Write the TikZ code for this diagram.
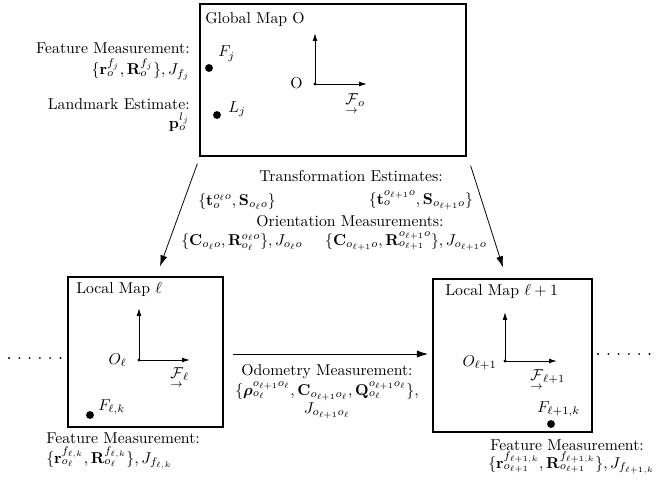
\documentclass[tikz,border=0pt]{standalone}
\usepackage{amsmath,amssymb}
\usetikzlibrary{arrows.meta,fit,calc}
\newcommand{\framevec}[1]{\smash[b]{\underset{\rightarrow}{\mathcal{F}}}_{#1}}
\begin{document}
\begin{tikzpicture}[x=0.635pt,y=-0.635pt,
  mapbox/.style={draw,line width=0.8pt,inner sep=0pt},
  axis/.style={-{Latex[length=5pt,width=3pt]},line width=0.6pt},
  bigarrow/.style={-{Latex[length=7pt,width=4.5pt]},line width=0.5pt},
  landmark/.style={circle,fill,inner sep=0pt,minimum size=5pt},
  origin/.style={circle,fill,inner sep=0pt,minimum size=2.2pt},
  lbl/.style={inner sep=0pt},
  dotmark/.style={circle,fill,inner sep=0pt,minimum size=1.3pt}]
\useasboundingbox (0,0) rectangle (656,481);
% ---------- global map ----------
\coordinate (G-nw) at (200,4); \coordinate (G-se) at (466,156);
\node[mapbox,fit=(G-nw)(G-se)] (G) {};
\node[lbl,anchor=base west] (Gt) at (205,24) {Global Map O};
\node[origin] (Go) at (315,84) {};
\coordinate (Gy) at (315,33); \coordinate (Gx) at (367,84);
\draw[axis] (Go.center) -- (Gy);
\draw[axis] (Go.center) -- (Gx);
\node[lbl,anchor=base east] (GoL) at (303,89) {O};
\node[lbl,anchor=north west] (GF) at (345,93) {$\framevec{o}$};
\node[landmark] (Fj) at (209,68) {};
\node[lbl,anchor=base west] (FjL) at (218,57) {$F_j$};
\node[landmark] (Lj) at (217,115) {};
\node[lbl,anchor=base west] (LjL) at (228,112) {$L_j$};
\node[lbl,anchor=base east] (fm1) at (190,54) {Feature Measurement:};
\node[lbl,anchor=base east] (fm2) at (190,75) {$\{\mathbf{r}_o^{f_j},\mathbf{R}_o^{f_j}\},J_{f_j}$};
\node[lbl,anchor=base east] (le1) at (190,109) {Landmark Estimate:};
\node[lbl,anchor=base east] (le2) at (190,129) {$\mathbf{p}_o^{l_j}$};
% ---------- local map l ----------
\coordinate (L-nw) at (68,277); \coordinate (L-se) at (223,427);
\node[mapbox,fit=(L-nw)(L-se)] (L) {};
\node[lbl,anchor=base west] (Lt) at (76,293) {Local Map $\ell$};
\node[origin] (Lo) at (139,360) {};
\coordinate (Ly) at (139,308); \coordinate (Lx) at (190,360);
\draw[axis] (Lo.center) -- (Ly);
\draw[axis] (Lo.center) -- (Lx);
\node[lbl,anchor=base east] (LoL) at (127,364) {$O_\ell$};
\node[lbl,anchor=north west] (LF) at (170,367) {$\framevec{\ell}$};
\node[landmark] (Flk) at (90,415) {};
\node[lbl,anchor=base west] (FlkL) at (98,410) {$F_{\ell,k}$};
\node[lbl,anchor=base west] (lf1) at (46,443) {Feature Measurement:};
\node[lbl,anchor=base west] (lf2) at (46,463) {$\{\mathbf{r}_{o_\ell}^{f_{\ell,k}},\mathbf{R}_{o_\ell}^{f_{\ell,k}}\},J_{f_{\ell,k}}$};
\foreach \i in {0,...,5} \node[dotmark] (ld\i) at (9+10.3*\i,358) {};
% ---------- local map l+1 ----------
\coordinate (R-nw) at (433,279); \coordinate (R-se) at (592,432);
\node[mapbox,fit=(R-nw)(R-se)] (R) {};
\node[lbl,anchor=base west] (Rt) at (445,295) {Local Map $\ell+1$};
\node[origin] (Ro) at (505,361) {};
\coordinate (Ry) at (505,312); \coordinate (Rx) at (557,361);
\draw[axis] (Ro.center) -- (Ry);
\draw[axis] (Ro.center) -- (Rx);
\node[lbl,anchor=base east] (RoL) at (497,366) {$O_{\ell+1}$};
\node[lbl,anchor=north west] (RF) at (530,369) {$\framevec{\ell+1}$};
\node[landmark] (Frk) at (551,424) {};
\node[lbl,anchor=base west] (FrkL) at (537,412) {$F_{\ell+1,k}$};
\node[lbl,anchor=base west] (rf1) at (490,450) {Feature Measurement:};
\node[lbl,anchor=base west] (rf2) at (488,468) {$\{\mathbf{r}_{o_{\ell+1}}^{f_{\ell+1,k}},\mathbf{R}_{o_{\ell+1}}^{f_{\ell+1,k}}\},J_{f_{\ell+1,k}}$};
\foreach \i in {0,...,5} \node[dotmark] (rd\i) at (598+10.3*\i,354) {};
% ---------- connectors ----------
\draw[bigarrow] ($(G.south west)+(-2,7)$) -- ($(L.north)+(14.5,-10)$);
\draw[bigarrow] ($(G.south east)+(4,9)$) -- ($(R.north)+(-9.5,-11)$);
\coordinate (odoS) at (233,354); \coordinate (odoE) at (428,354);
\draw[bigarrow] (odoS) -- (odoE);
% ---------- middle labels ----------
\node[lbl,anchor=base] (te) at (351,181) {Transformation Estimates:};
\node[lbl,anchor=base] (te1) at (237,205) {$\{\mathbf{t}_o^{o_\ell o},\mathbf{S}_{o_\ell o}\}$};
\node[lbl,anchor=base] (te2) at (421,204) {$\{\mathbf{t}_o^{o_{\ell+1}o},\mathbf{S}_{o_{\ell+1}o}\}$};
\node[lbl,anchor=base] (om) at (350,226) {Orientation Measurements:};
\node[lbl,anchor=base] (om1) at (242,245) {$\{\mathbf{C}_{o_\ell o},\mathbf{R}_{o_\ell}^{o_\ell o}\},J_{o_\ell o}$};
\node[lbl,anchor=base] (om2) at (406,245) {$\{\mathbf{C}_{o_{\ell+1}o},\mathbf{R}_{o_{\ell+1}}^{o_{\ell+1}o}\},J_{o_{\ell+1}o}$};
\node[lbl,anchor=base] (od1) at (327,375) {Odometry Measurement:};
\node[lbl,anchor=base] (od2) at (327,395) {$\{\boldsymbol{\rho}_{o_\ell}^{o_{\ell+1}o_\ell},\mathbf{C}_{o_{\ell+1}o_\ell},\mathbf{Q}_{o_\ell}^{o_{\ell+1}o_\ell}\},$};
\node[lbl,anchor=base] (od3) at (327,413) {$J_{o_{\ell+1}o_\ell}$};
\end{tikzpicture}
\end{document}
